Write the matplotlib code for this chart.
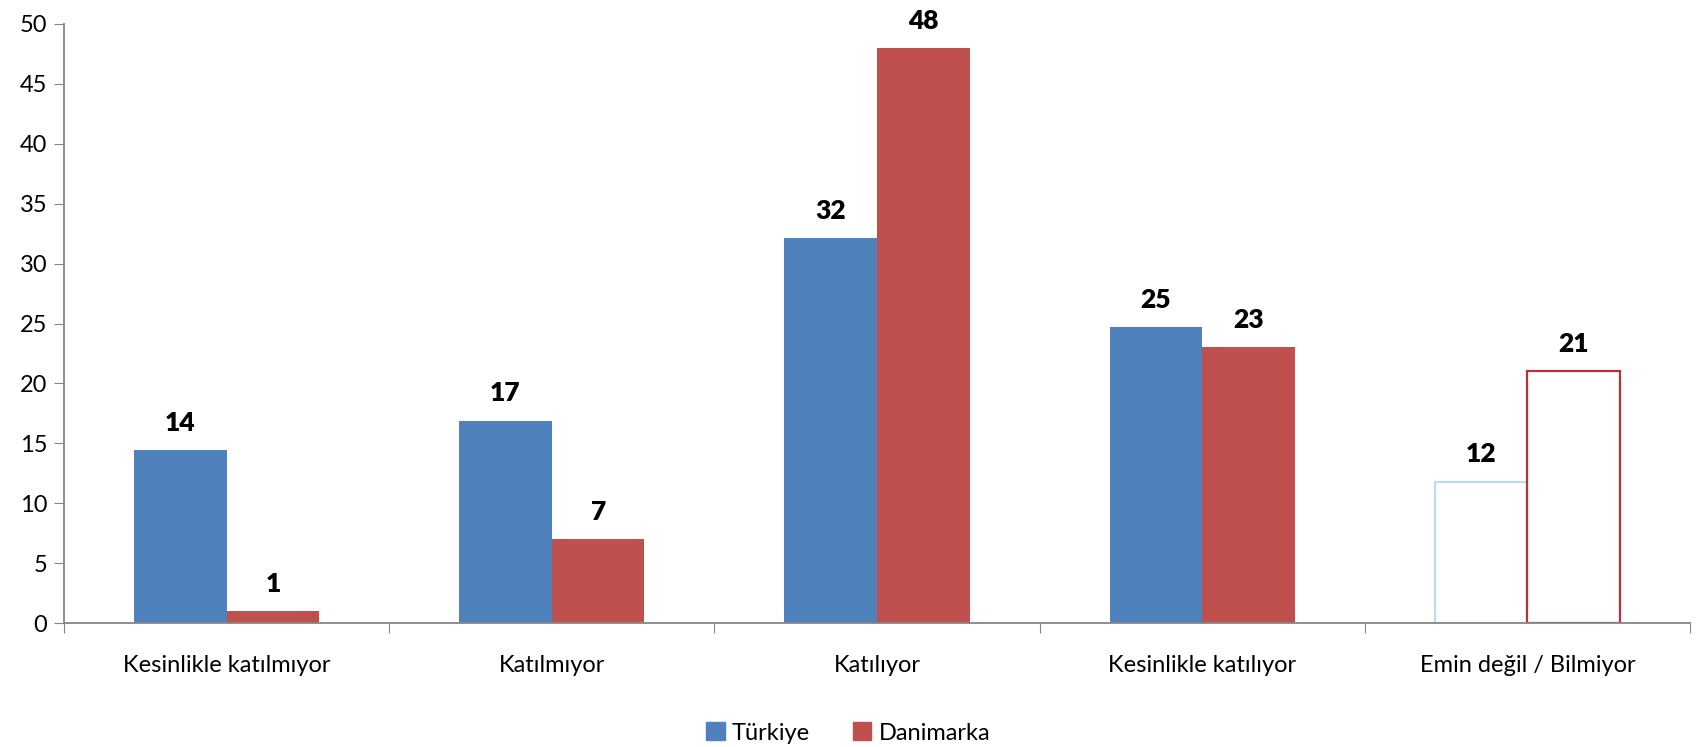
import numpy as np
import matplotlib
matplotlib.use("Agg")
import matplotlib.pyplot as plt

plt.rcParams['font.family'] = ['Lato', 'DejaVu Sans']

# data
categories = ["Kesinlikle katılmıyor", "Katılmıyor", "Katılıyor",
              "Kesinlikle katılıyor", "Emin değil / Bilmiyor"]
turkiye = [14.4, 16.9, 32.1, 24.7, 11.8]
danimarka = [1.0, 7.0, 48.0, 23.0, 21.0]
series_names = ["Türkiye", "Danimarka"]
yticks = [0, 5, 10, 15, 20, 25, 30, 35, 40, 45, 50]

BLUE = "#4F81BD"
RED = "#C0504D"
GRAY = "#868686"

fig = plt.figure(figsize=(16.96, 7.47), dpi=100)
ax = fig.add_axes([64 / 1696, 1 - 623 / 747, (1690 - 64) / 1696, (623 - 24) / 747])

x = np.arange(len(categories))
w = 0.285
n_filled = 4  # last group drawn as outline only

for i, (t, d) in enumerate(zip(turkiye, danimarka)):
    if i < n_filled:
        ax.bar(x[i] - w / 2, t, w, color=BLUE, linewidth=0)
        ax.bar(x[i] + w / 2, d, w, color=RED, linewidth=0)
    else:
        ax.bar(x[i] - w / 2, t, w, facecolor="white", edgecolor="#B7DDE8", linewidth=1.6)
        ax.bar(x[i] + w / 2, d, w, facecolor="white", edgecolor="#BE3039", linewidth=1.6)
    ax.text(x[i] - w / 2, t + 1.6, f"{t:.0f}", ha="center", va="baseline",
            fontsize=19, fontweight="heavy")
    ax.text(x[i] + w / 2, d + 1.6, f"{d:.0f}", ha="center", va="baseline",
            fontsize=19, fontweight="heavy")

ax.set_xlim(-0.5, len(categories) - 0.5)
ax.set_ylim(0, 50)
ax.set_yticks(yticks)
ax.tick_params(axis="y", labelsize=17, length=7, color=GRAY, pad=5)

ax.set_xticks(np.arange(len(categories) + 1) - 0.5)
ax.set_xticklabels([])
ax.set_xticks(x, minor=True)
ax.set_xticklabels(categories, minor=True, fontsize=17)
ax.tick_params(axis="x", which="major", length=7, color=GRAY)
ax.tick_params(axis="x", which="minor", length=0, pad=23)

for s in ["top", "right"]:
    ax.spines[s].set_visible(False)
for s in ["left", "bottom"]:
    ax.spines[s].set_color(GRAY)
    ax.spines[s].set_linewidth(1.3)

handles = [plt.Rectangle((0, 0), 1, 1, color=BLUE), plt.Rectangle((0, 0), 1, 1, color=RED)]
fig.legend(handles, series_names, loc="center", bbox_to_anchor=(0.5, 1 - 733 / 747),
           ncol=2, frameon=False, fontsize=17, handlelength=0.8, handleheight=0.8,
           handletextpad=0.3, columnspacing=1.8)

fig.savefig("out.png", dpi=100)
